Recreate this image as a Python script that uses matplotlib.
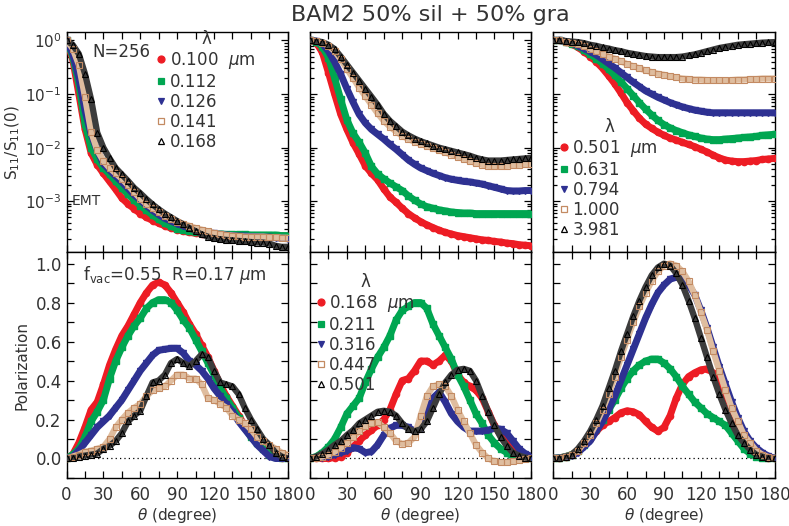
import numpy as np
import matplotlib
matplotlib.use('Agg')
import matplotlib.pyplot as plt
from matplotlib.lines import Line2D
from matplotlib.ticker import MultipleLocator, NullFormatter, FormatStrFormatter
import matplotlib.transforms as mtransforms

plt.rcParams['font.family'] = ['DejaVu Sans']
plt.rcParams['mathtext.fontset'] = 'dejavusans'

# scattering angle grid (degree)
THETA = list(range(0, 181, 5))

# ---- top row: log10 of S11/S11(0) ----
LEFT_WAVE = ['0.100', '0.112', '0.126', '0.141', '0.168']
LOG_S11_LEFT = [
    [0, -0.35, -1.0, -1.65, -2.1, -2.32, -2.48, -2.63, -2.78, -2.94, -3.05, -3.14, -3.23, -3.3, -3.36, -3.41,
     -3.46, -3.5, -3.53, -3.56, -3.58, -3.6, -3.61, -3.62, -3.63, -3.63, -3.64, -3.64, -3.64, -3.64, -3.65,
     -3.65, -3.65, -3.65, -3.65, -3.65, -3.65],
    [0, -0.3, -0.82, -1.55, -2.0, -2.22, -2.38, -2.5, -2.63, -2.75, -2.87, -2.98, -3.08, -3.17, -3.26, -3.34,
     -3.41, -3.47, -3.51, -3.54, -3.56, -3.58, -3.59, -3.6, -3.61, -3.61, -3.62, -3.62, -3.62, -3.62, -3.63,
     -3.63, -3.63, -3.63, -3.63, -3.64, -3.64],
    [0, -0.25, -0.7, -1.3, -1.75, -2.05, -2.3, -2.42, -2.53, -2.64, -2.76, -2.88, -2.98, -3.08, -3.17, -3.25,
     -3.32, -3.37, -3.42, -3.46, -3.5, -3.53, -3.56, -3.58, -3.6, -3.62, -3.63, -3.64, -3.65, -3.65, -3.66,
     -3.66, -3.67, -3.67, -3.68, -3.69, -3.7],
    [0, -0.15, -0.45, -1.05, -1.7, -2.05, -2.25, -2.38, -2.48, -2.58, -2.7, -2.83, -2.95, -3.05, -3.13, -3.2,
     -3.27, -3.33, -3.38, -3.42, -3.46, -3.5, -3.53, -3.56, -3.59, -3.61, -3.63, -3.64, -3.65, -3.66, -3.66,
     -3.66, -3.66, -3.67, -3.67, -3.68, -3.68],
    [0, -0.08, -0.25, -0.62, -1.1, -1.72, -2.0, -2.2, -2.38, -2.5, -2.62, -2.75, -2.85, -2.96, -3.06, -3.15,
     -3.23, -3.3, -3.37, -3.43, -3.5, -3.56, -3.62, -3.66, -3.69, -3.71, -3.72, -3.73, -3.74, -3.75, -3.76,
     -3.77, -3.77, -3.79, -3.83, -3.85, -3.85],
]

MID_WAVE = ['0.168', '0.211', '0.316', '0.447', '0.501']
LOG_S11_MID = [
    [0, -0.04, -0.22, -0.6, -1.0, -1.38, -1.66, -1.91, -2.12, -2.34, -2.48, -2.6, -2.77, -2.92, -3.02, -3.13,
     -3.23, -3.31, -3.38, -3.44, -3.49, -3.54, -3.58, -3.61, -3.64, -3.66, -3.68, -3.7, -3.72, -3.73, -3.75,
     -3.76, -3.78, -3.79, -3.81, -3.82, -3.83],
    [0, -0.02, -0.12, -0.32, -0.7, -1.1, -1.48, -1.73, -1.9, -2.1, -2.35, -2.49, -2.58, -2.66, -2.73, -2.8,
     -2.9, -2.98, -3.05, -3.1, -3.13, -3.16, -3.18, -3.2, -3.21, -3.22, -3.22, -3.23, -3.23, -3.23, -3.23,
     -3.23, -3.23, -3.23, -3.23, -3.23, -3.23],
    [0, -0.01, -0.06, -0.2, -0.4, -0.63, -0.9, -1.15, -1.38, -1.54, -1.66, -1.75, -1.84, -1.94, -2.03, -2.13,
     -2.23, -2.31, -2.38, -2.43, -2.48, -2.52, -2.56, -2.59, -2.61, -2.63, -2.64, -2.66, -2.68, -2.71, -2.74,
     -2.77, -2.8, -2.81, -2.81, -2.8, -2.8],
    [0, -0.01, -0.04, -0.1, -0.2, -0.35, -0.53, -0.7, -0.88, -1.04, -1.2, -1.36, -1.5, -1.61, -1.7, -1.78,
     -1.84, -1.89, -1.93, -1.97, -2.01, -2.05, -2.09, -2.13, -2.17, -2.21, -2.25, -2.29, -2.32, -2.34, -2.35,
     -2.35, -2.34, -2.33, -2.32, -2.31, -2.3],
    [0, -0.01, -0.03, -0.08, -0.16, -0.3, -0.45, -0.6, -0.75, -0.9, -1.05, -1.2, -1.37, -1.5, -1.6, -1.7,
     -1.77, -1.83, -1.88, -1.92, -1.96, -2.0, -2.03, -2.06, -2.09, -2.12, -2.15, -2.19, -2.22, -2.24, -2.24,
     -2.24, -2.23, -2.22, -2.21, -2.2, -2.19],
]

RIGHT_WAVE = ['0.501', '0.631', '0.794', '1.000', '3.981']
LOG_S11_RIGHT = [
    [0, 0, -0.02, -0.07, -0.13, -0.21, -0.3, -0.4, -0.52, -0.66, -0.81, -0.98, -1.16, -1.31, -1.45, -1.56,
     -1.64, -1.71, -1.77, -1.82, -1.86, -1.9, -1.94, -1.98, -2.03, -2.08, -2.14, -2.19, -2.23, -2.25, -2.26,
     -2.26, -2.25, -2.24, -2.22, -2.21, -2.2],
    [0, 0, -0.02, -0.06, -0.11, -0.18, -0.26, -0.34, -0.43, -0.54, -0.65, -0.77, -0.9, -1.03, -1.16, -1.28,
     -1.39, -1.49, -1.57, -1.63, -1.68, -1.72, -1.76, -1.79, -1.82, -1.84, -1.85, -1.85, -1.84, -1.83, -1.82,
     -1.81, -1.8, -1.79, -1.77, -1.76, -1.75],
    [0, 0, -0.02, -0.05, -0.1, -0.15, -0.21, -0.27, -0.35, -0.43, -0.51, -0.6, -0.69, -0.78, -0.86, -0.94,
     -1.0, -1.06, -1.11, -1.16, -1.2, -1.24, -1.27, -1.3, -1.32, -1.34, -1.35, -1.35, -1.35, -1.35, -1.35,
     -1.35, -1.35, -1.35, -1.35, -1.35, -1.35],
    [0, 0, -0.02, -0.04, -0.07, -0.11, -0.15, -0.2, -0.25, -0.3, -0.34, -0.39, -0.44, -0.48, -0.52, -0.56,
     -0.59, -0.62, -0.64, -0.67, -0.69, -0.71, -0.72, -0.73, -0.73, -0.74, -0.74, -0.74, -0.74, -0.74, -0.73,
     -0.73, -0.72, -0.72, -0.71, -0.71, -0.71],
    [0, 0, -0.01, -0.02, -0.03, -0.05, -0.08, -0.1, -0.13, -0.15, -0.18, -0.2, -0.23, -0.25, -0.27, -0.29,
     -0.3, -0.31, -0.31, -0.31, -0.31, -0.3, -0.28, -0.26, -0.23, -0.2, -0.17, -0.14, -0.12, -0.1, -0.08,
     -0.07, -0.06, -0.05, -0.04, -0.035, -0.03],
]

# ---- bottom row: degree of linear polarization ----
POL_LEFT = [
    [0, 0.02, 0.08, 0.16, 0.25, 0.29, 0.38, 0.48, 0.56, 0.63, 0.68, 0.74, 0.8, 0.85, 0.89, 0.905, 0.89, 0.85,
     0.8, 0.75, 0.69, 0.64, 0.58, 0.52, 0.45, 0.38, 0.32, 0.27, 0.22, 0.17, 0.12, 0.08, 0.05, 0.02, 0.01, 0.0, 0.0],
    [0, 0.02, 0.05, 0.11, 0.19, 0.24, 0.3, 0.41, 0.5, 0.57, 0.63, 0.68, 0.72, 0.77, 0.8, 0.815, 0.815, 0.8,
     0.76, 0.71, 0.67, 0.61, 0.55, 0.49, 0.43, 0.36, 0.31, 0.26, 0.21, 0.16, 0.11, 0.08, 0.05, 0.02, 0.01, 0, 0],
    [0, 0.01, 0.04, 0.08, 0.12, 0.16, 0.19, 0.22, 0.26, 0.3, 0.35, 0.4, 0.45, 0.49, 0.53, 0.555, 0.56, 0.565,
     0.565, 0.54, 0.5, 0.48, 0.45, 0.41, 0.36, 0.32, 0.28, 0.24, 0.19, 0.15, 0.11, 0.07, 0.04, 0.01, 0.0, 0, 0],
    [0, 0.01, 0.02, 0.035, 0.04, 0.05, 0.06, 0.1, 0.16, 0.2, 0.235, 0.26, 0.28, 0.32, 0.35, 0.36, 0.37, 0.4,
     0.43, 0.43, 0.41, 0.41, 0.38, 0.31, 0.3, 0.28, 0.26, 0.22, 0.2, 0.18, 0.15, 0.11, 0.09, 0.07, 0.05, 0.03, 0.02],
    [0, 0.005, 0.01, 0.015, 0.02, 0.025, 0.05, 0.065, 0.09, 0.13, 0.19, 0.22, 0.245, 0.32, 0.39, 0.4, 0.43, 0.49,
     0.51, 0.49, 0.475, 0.5, 0.535, 0.52, 0.45, 0.39, 0.38, 0.37, 0.33, 0.26, 0.2, 0.15, 0.1, 0.07, 0.03, 0.01, 0.0],
]

POL_MID = [
    [0, 0, 0, 0, 0.005, 0.01, 0.03, 0.06, 0.09, 0.12, 0.145, 0.17, 0.2, 0.25, 0.33, 0.4, 0.41, 0.45,
     0.5, 0.5, 0.48, 0.5, 0.53, 0.5, 0.43, 0.39, 0.37, 0.35, 0.31, 0.24, 0.17, 0.12, 0.08, 0.05, 0.03, 0.01, 0.0],
    [0, 0.01, 0.03, 0.06, 0.1, 0.16, 0.23, 0.27, 0.31, 0.39, 0.46, 0.52, 0.57, 0.63, 0.71, 0.76, 0.78, 0.8,
     0.8, 0.77, 0.69, 0.63, 0.57, 0.51, 0.43, 0.37, 0.3, 0.23, 0.18, 0.12, 0.08, 0.05, 0.03, 0.01, 0, 0, 0],
    [0, 0, 0.005, 0.01, 0.02, 0.03, 0.04, 0.055, 0.05, 0.03, 0.035, 0.07, 0.12, 0.155, 0.17, 0.17, 0.16, 0.14,
     0.15, 0.23, 0.31, 0.34, 0.29, 0.23, 0.19, 0.16, 0.14, 0.14, 0.14, 0.145, 0.155, 0.15, 0.13, 0.09, 0.05, 0.025, 0.01],
    [0, 0.005, 0.01, 0.02, 0.035, 0.055, 0.08, 0.11, 0.14, 0.165, 0.18, 0.185, 0.16, 0.13, 0.09, 0.075, 0.08, 0.11,
     0.22, 0.32, 0.37, 0.38, 0.37, 0.32, 0.25, 0.19, 0.13, 0.07, 0.03, 0.0, -0.015, -0.02, -0.02, -0.015, -0.01, -0.005, 0.0],
    [0, 0.01, 0.025, 0.045, 0.07, 0.09, 0.12, 0.145, 0.18, 0.2, 0.22, 0.24, 0.245, 0.24, 0.22, 0.18, 0.15, 0.14,
     0.15, 0.19, 0.26, 0.33, 0.39, 0.43, 0.455, 0.46, 0.45, 0.4, 0.32, 0.24, 0.17, 0.11, 0.065, 0.03, 0.015, 0.005, 0.0],
]

POL_RIGHT = [
    [0, 0.003, 0.01, 0.02, 0.04, 0.07, 0.1, 0.14, 0.17, 0.19, 0.21, 0.235, 0.245, 0.24, 0.225, 0.19, 0.16, 0.14,
     0.16, 0.22, 0.31, 0.38, 0.42, 0.44, 0.455, 0.46, 0.44, 0.4, 0.33, 0.26, 0.18, 0.12, 0.07, 0.04, 0.02, 0.005, 0.0],
    [0, 0.003, 0.01, 0.02, 0.04, 0.07, 0.11, 0.15, 0.2, 0.25, 0.3, 0.36, 0.41, 0.45, 0.48, 0.5, 0.51, 0.51,
     0.49, 0.46, 0.42, 0.37, 0.33, 0.29, 0.26, 0.23, 0.21, 0.19, 0.17, 0.13, 0.09, 0.05, 0.025, 0.01, 0.003, 0.0, 0],
    [0, 0.002, 0.008, 0.015, 0.03, 0.06, 0.09, 0.14, 0.19, 0.25, 0.32, 0.4, 0.48, 0.56, 0.64, 0.72, 0.79, 0.85,
     0.89, 0.92, 0.93, 0.92, 0.89, 0.84, 0.76, 0.67, 0.57, 0.47, 0.38, 0.29, 0.21, 0.14, 0.09, 0.055, 0.03, 0.012, 0.0],
    [0, 0.002, 0.01, 0.02, 0.04, 0.08, 0.12, 0.18, 0.25, 0.33, 0.42, 0.52, 0.61, 0.7, 0.78, 0.85, 0.91, 0.96,
     0.99, 1.0, 0.99, 0.96, 0.91, 0.84, 0.75, 0.66, 0.55, 0.45, 0.35, 0.26, 0.19, 0.12, 0.08, 0.04, 0.02, 0.007, 0.0],
    [0, 0.002, 0.01, 0.02, 0.05, 0.09, 0.14, 0.2, 0.27, 0.36, 0.45, 0.55, 0.64, 0.73, 0.81, 0.88, 0.94, 0.98,
     1.0, 0.99, 0.95, 0.89, 0.81, 0.72, 0.62, 0.52, 0.42, 0.33, 0.25, 0.18, 0.12, 0.08, 0.045, 0.02, 0.01, 0.003, 0.0],
]

# per-wavelength style: colour, marker, filled?, band colour under open symbols
STYLES = [
    dict(color='#ed1c24', marker='o', filled=True),
    dict(color='#00a651', marker='s', filled=True),
    dict(color='#2e3192', marker='v', filled=True),
    dict(color='#c38a62', marker='s', filled=False, band='#dfbd9f'),
    dict(color='#000000', marker='^', filled=False, band='#3c3c3c'),
]

TEXT_COLOR = '#333333'
FS = 11


def draw_curve(ax, theta, values, st):
    """Thick band of overlapping symbols, like the original IDL plot."""
    if st['filled']:
        ax.plot(theta, values, color=st['color'], lw=5, solid_capstyle='round',
                solid_joinstyle='round', marker=st['marker'], ms=4.5,
                mfc=st['color'], mec=st['color'], zorder=3)
    else:
        ax.plot(theta, values, color=st['band'], lw=4.5, solid_capstyle='round',
                solid_joinstyle='round', zorder=3)
        ax.plot(theta, values, ls='none', marker=st['marker'], ms=4.8, mfc='none',
                mec=st['color'], mew=0.8, zorder=4)


def style_axes(ax, log=False):
    ax.set_xlim(0, 180)
    ax.xaxis.set_major_locator(MultipleLocator(30))
    ax.xaxis.set_minor_locator(MultipleLocator(15))
    ax.tick_params(which='both', direction='in', top=True, right=True,
                   labelsize=11 if log else 12, labelcolor=TEXT_COLOR, width=0.9)
    ax.tick_params(which='major', length=5)
    ax.tick_params(which='minor', length=3 if log else 5)
    ax.tick_params(axis='x', which='minor', length=5)
    ax.tick_params(axis='x', pad=6)
    for sp in ax.spines.values():
        sp.set_linewidth(1.0)


def wave_legend(ax, waves, anchor):
    handles = []
    for st in STYLES:
        handles.append(Line2D([], [], ls='none', marker=st['marker'], ms=5,
                              mfc=st['color'] if st['filled'] else 'none',
                              mec=st['color'], mew=0.9))
    labels = [waves[0] + r'  $\mu$m'] + waves[1:]
    leg = ax.legend(handles, labels, title='λ', loc='upper left', bbox_to_anchor=anchor,
                    frameon=False, fontsize=12, title_fontsize=12, handlelength=0.5,
                    handletextpad=0.25, labelspacing=0.12, borderpad=0, borderaxespad=0)
    for t in leg.get_texts():
        t.set_color(TEXT_COLOR)
    leg.get_title().set_color(TEXT_COLOR)
    return leg


fig = plt.figure(figsize=(7.89, 5.26), dpi=100)

col_left = [0.0843, 0.3929, 0.7013]
col_w = 0.2805
top_row = (0.5205, 0.4187)
bot_row = (0.0913, 0.4287)

top_axes = [fig.add_axes([x, top_row[0], col_w, top_row[1]]) for x in col_left]
bot_axes = [fig.add_axes([x, bot_row[0], col_w, bot_row[1]]) for x in col_left]

# top row: S11 on a log axis
for ax, data in zip(top_axes, [LOG_S11_LEFT, LOG_S11_MID, LOG_S11_RIGHT]):
    for vals, st in zip(data, STYLES):
        draw_curve(ax, THETA, 10.0 ** np.array(vals), st)
    ax.set_yscale('log')
    ax.set_ylim(1.12e-4, 1.44)
    style_axes(ax, log=True)
    ax.xaxis.set_major_formatter(NullFormatter())

# bottom row: polarization
for ax, data in zip(bot_axes, [POL_LEFT, POL_MID, POL_RIGHT]):
    ax.axhline(0, color='black', lw=0.9, ls=(0, (1, 2.5)), zorder=1)
    for vals, st in zip(data, STYLES):
        draw_curve(ax, THETA, vals, st)
    ax.set_ylim(-0.1, 1.057)
    ax.yaxis.set_major_locator(MultipleLocator(0.2))
    ax.yaxis.set_minor_locator(MultipleLocator(0.1))
    style_axes(ax)
    ax.set_xlabel(r'$\theta$ (degree)', fontsize=FS, color=TEXT_COLOR, labelpad=1)

for ax in top_axes[1:] + bot_axes[1:]:
    ax.yaxis.set_major_formatter(NullFormatter())

top_axes[0].set_ylabel(r'S$_{11}$/S$_{11}$(0)', fontsize=FS, color=TEXT_COLOR, labelpad=2)
bot_axes[0].set_ylabel('Polarization', fontsize=FS, color=TEXT_COLOR, labelpad=4)
bot_axes[0].yaxis.set_major_formatter(FormatStrFormatter('%.1f'))

# annotations
top_axes[0].text(0.115, 0.91, 'N=256', transform=top_axes[0].transAxes, fontsize=12,
                 color=TEXT_COLOR, va='center')
emt_tr = mtransforms.blended_transform_factory(top_axes[0].transAxes, top_axes[0].transData)
top_axes[0].text(0.025, 1e-3, 'EMT', transform=emt_tr, fontsize=10, color=TEXT_COLOR, va='center')
bot_axes[0].text(0.075, 0.9, r'f$_{\rm vac}$=0.55  R=0.17 $\mu$m', transform=bot_axes[0].transAxes,
                 fontsize=12, color=TEXT_COLOR, va='center')

wave_legend(top_axes[0], LEFT_WAVE, (0.41, 1.01))
wave_legend(top_axes[2], RIGHT_WAVE, (0.03, 0.61))
wave_legend(bot_axes[1], MID_WAVE, (0.03, 0.91))

fig.text(0.546, 0.972, 'BAM2 50% sil + 50% gra', ha='center', va='center', fontsize=16, color=TEXT_COLOR)

fig.savefig('out.png', dpi=100)
